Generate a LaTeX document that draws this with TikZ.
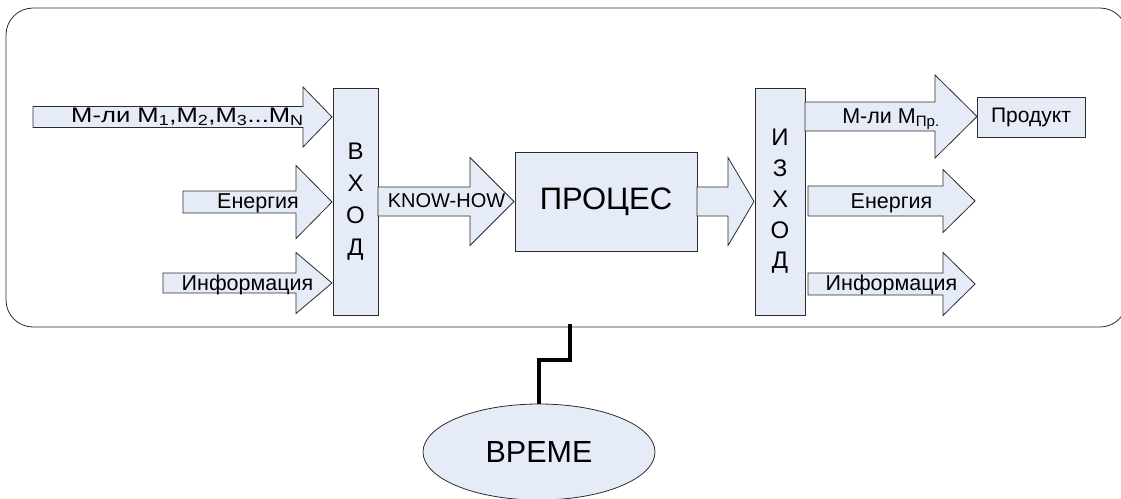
\documentclass[tikz,border=0pt]{standalone}
\usepackage{graphicx}
\usepackage{fontspec}
\setmainfont{Liberation Sans}
\usetikzlibrary{calc,shapes.geometric}
\definecolor{paleblue}{RGB}{229,236,247}
\definecolor{edge}{RGB}{45,45,45}

\tikzset{
  outline/.style={draw=edge, line width=0.8pt},
  flow/.style={outline, fill=paleblue, line join=miter},
  box/.style={outline, fill=paleblue, inner sep=0pt},
  lbl/.style={inner sep=0pt, anchor=base},
  link/.style={line width=3.8pt, black, line join=miter},
  fs/.style={font=\fontsize{#1}{#1}\selectfont},
}

% block arrow: #1 tail x, #2 head base x, #3 tip x, #4 centre y,
% #5 half thickness of the shaft, #6 half height of the head
\newcommand\blockarrow[6]{%
  \draw[flow] (#1,#4-#5) -- (#2,#4-#5) -- (#2,#4-#6) -- (#3,#4)
    -- (#2,#4+#6) -- (#2,#4+#5) -- (#1,#4+#5) -- cycle;}

\begin{document}
\begin{tikzpicture}[x=1pt,y=-1pt]
\useasboundingbox (0,0) rectangle (1121,498);
\clip (0,0) rectangle (1121,498);

% system boundary
\node[outline, rounded corners=27pt, minimum width=1121pt, minimum height=319pt,
      inner sep=0pt] (system) at (566.5,167.5) {};

% inputs
\blockarrow{33}{303}{332}{117}{10.5}{30}
\blockarrow{183}{296}{332}{202}{11}{36.5}
\blockarrow{163}{296}{332}{283}{10}{30.5}
\node[lbl, fs=21] (mat-in) at (187.5,122)
  {\scalebox{1.22}[1]{М-ли М\textsubscript{1},М\textsubscript{2},М\textsubscript{3}...М\textsubscript{N}}};
\node[lbl, fs=21.5] (en-in) at (258,208) {Енергия};
\node[lbl, fs=21.5] (inf-in) at (247.5,290) {Информация};

% input gate
\node[box, minimum width=45pt, minimum height=227pt, align=center,
      font=\fontsize{24}{32}\selectfont] (entry) at (355.5,201.5) {В\\Х\\О\\Д};

% know-how into the process
\blockarrow{378}{470}{514}{201.5}{14.5}{44}
\node[lbl, fs=20] (know) at (446.5,207) {KNOW-HOW};

% process
\node[box, minimum width=182pt, minimum height=99pt, fs=31] (proc) at (606,201.5) {ПРОЦЕС};

% process to output gate
\blockarrow{697}{728}{754}{201.5}{14.5}{44}

% output gate
\node[box, minimum width=50pt, minimum height=227pt, align=center,
      font=\fontsize{24}{30.7}\selectfont] (exit) at (780,201.5) {И\\З\\Х\\О\\Д};

% outputs
\blockarrow{805}{935}{977}{116.5}{14.5}{41.5}
\blockarrow{808}{943}{975}{201}{15}{31.5}
\blockarrow{808}{943}{975}{284}{11}{31.5}
\node[lbl, fs=21.5] (mat-out) at (891,123) {М-ли М\textsubscript{Пр.}};
\node[lbl, fs=21.5] (en-out) at (891.5,208) {Енергия};
\node[lbl, fs=21.5] (inf-out) at (891.5,290) {Информация};

% product
\node[box, minimum width=108pt, minimum height=40pt, fs=21] (prod) at (1031,117) {Продукт};

% time
\node[outline, fill=paleblue, ellipse, minimum width=232pt, minimum height=96pt,
      inner sep=0pt, fs=30.5] (time) at (539,452) {ВРЕМЕ};

\coordinate (tap) at (570,324);
\draw[link] (tap) |- ($(time.north)+(0,-44)$) -- (time.north);
\end{tikzpicture}
\end{document}
